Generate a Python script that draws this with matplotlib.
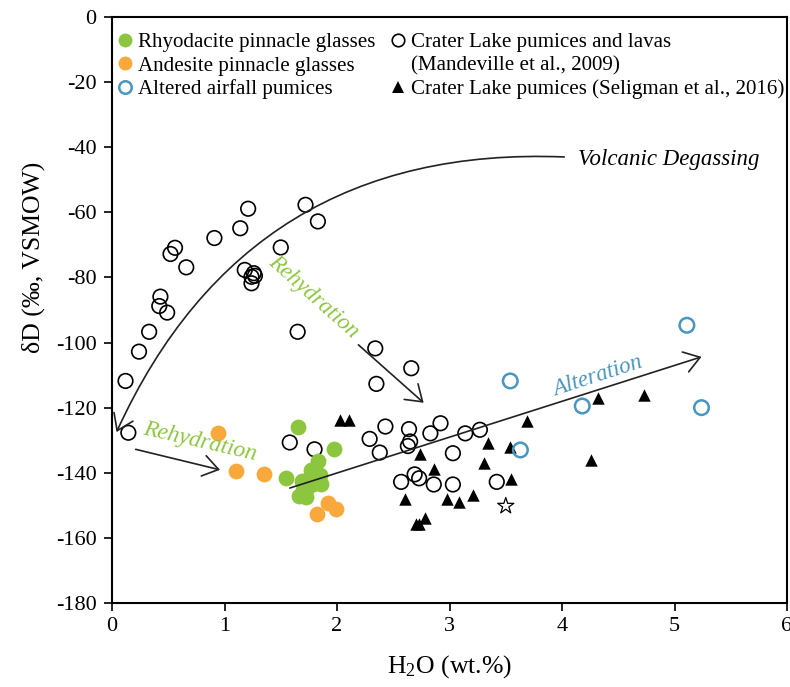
import matplotlib
matplotlib.use("Agg")
import matplotlib.pyplot as plt
from matplotlib.lines import Line2D

plt.rcParams['font.family'] = ['Liberation Serif', 'DejaVu Serif']
plt.rcParams['mathtext.fontset'] = 'custom'
plt.rcParams['mathtext.rm'] = 'Liberation Serif'
plt.rcParams['mathtext.it'] = 'Liberation Serif:italic'
plt.rcParams['axes.unicode_minus'] = False

# ---- data ----
rhyo_x = [1.65, 1.97, 1.55, 1.83, 1.77, 1.85, 1.86, 1.69, 1.73, 1.66, 1.72, 1.79, 1.76, 1.70]
rhyo_y = [-126, -132.6, -141.6, -136.5, -139.1, -140.7, -143.4, -142.5, -144.8, -147, -147.3, -143.4, -141.2, -145.3]

andes_x = [0.94, 1.10, 1.35, 1.82, 1.92, 1.99]
andes_y = [-127.9, -139.4, -140.5, -152.6, -149.4, -151.2]

alt_x = [3.54, 4.18, 3.63, 5.11, 5.24]
alt_y = [-111.8, -119.5, -133.0, -94.7, -120.0]

mand_x = [0.145, 0.12, 0.24, 0.33, 0.43, 0.42, 0.49, 0.56, 0.52, 0.66, 0.91, 1.14, 1.21,
          1.72, 1.83, 1.50, 1.18, 1.26, 1.27, 1.24, 1.24, 1.65, 2.34, 2.66, 2.35,
          1.58, 1.80, 2.43, 2.29, 2.38, 2.64, 2.65, 2.63, 2.83, 2.92, 3.14, 3.27,
          3.03, 2.57, 2.69, 2.73, 2.86, 3.03, 3.42]
mand_y = [-127.7, -111.8, -102.8, -96.7, -85.9, -88.8, -90.8, -70.9, -72.8, -76.9, -67.9, -64.9, -58.9,
          -57.7, -62.8, -70.8, -77.7, -78.7, -79.5, -81.8, -79.8, -96.7, -101.8, -107.9, -112.7,
          -130.7, -132.8, -125.8, -129.6, -133.8, -126.6, -130.4, -131.8, -127.9, -124.8, -127.9, -126.8,
          -134.0, -142.8, -140.5, -141.7, -143.6, -143.6, -142.8]

selig_x = [2.03, 2.11, 2.74, 2.86, 2.60, 2.98, 3.08, 3.21, 3.31, 3.34, 3.54, 3.55, 3.69,
           4.32, 4.73, 4.26, 2.70, 2.73, 2.78]
selig_y = [-123.8, -123.8, -134.1, -139.0, -148.0, -148.2, -148.9, -146.8, -137.0, -131.0, -132.0, -142.0, -124.0,
           -116.9, -116.1, -136.1, -155.7, -155.7, -154.0]

star_x = [3.50]
star_y = [-150.2]

x_ticks = [0, 1, 2, 3, 4, 5, 6]
y_ticks = [0, -20, -40, -60, -80, -100, -120, -140, -160, -180]

GREEN = '#8cc63f'
ORANGE = '#f9a93b'
BLUE = '#4a96bf'

fig = plt.figure(figsize=(7.9, 6.87), dpi=100)
ax = fig.add_axes([0.1418, 0.1223, 0.8544, 0.853])

ax.scatter(mand_x, mand_y, s=110, facecolors='none', edgecolors='black', linewidths=1.2, zorder=3)
ax.scatter(selig_x, selig_y, s=80, marker='^', color='black', linewidths=0, zorder=3)
ax.scatter(star_x, star_y, s=150, marker='*', facecolors='none', edgecolors='black', linewidths=0.9, zorder=3)
ax.scatter(alt_x, alt_y, s=110, facecolors='none', edgecolors=BLUE, linewidths=1.8, zorder=3)
ax.scatter(andes_x, andes_y, s=130, color=ORANGE, linewidths=0, zorder=3)
ax.scatter(rhyo_x, rhyo_y, s=130, color=GREEN, linewidths=0, zorder=3)

# arrows
def arrow(start, end, rad=0.0):
    ax.annotate('', xy=end, xytext=start,
                arrowprops=dict(arrowstyle='->,head_length=1.1,head_width=0.75',
                                mutation_scale=10, lw=1.2, color='#222222',
                                shrinkA=0, shrinkB=0,
                                connectionstyle=f'arc3,rad={rad}'), zorder=4)

arrow((4.02, -43.0), (0.04, -127.5), rad=0.336)
arrow((2.19, -100.7), (2.77, -118.5))
arrow((0.21, -132.8), (0.96, -139.1))
arrow((1.58, -144.7), (5.24, -104.4))

ax.text(4.14, -43.9, 'Volcanic Degassing', fontsize=16.5, style='italic', va='center', ha='left')
ax.text(1.79, -86.0, 'Rehydration', fontsize=16.5, style='italic', color=GREEN,
        rotation=-41.7, ha='center', va='center', rotation_mode='anchor')
ax.text(0.78, -130.6, 'Rehydration', fontsize=16.8, style='italic', color=GREEN,
        rotation=-13, ha='center', va='center', rotation_mode='anchor')
ax.text(4.32, -110.4, 'Alteration', fontsize=16.5, style='italic', color=BLUE,
        rotation=18, ha='center', va='center', rotation_mode='anchor')

ax.set_xlim(0, 6)
ax.set_ylim(-180, 0)
ax.set_xticks(x_ticks)
ax.set_yticks(y_ticks)
ax.set_xticklabels([str(v) for v in x_ticks])
ax.set_yticklabels([str(v) for v in y_ticks])
ax.tick_params(direction='out', length=6, width=1.2, labelsize=16)
ax.tick_params(axis='y', pad=5)
ax.tick_params(axis='x', pad=4)
for sp in ax.spines.values():
    sp.set_linewidth(1.5)

ax.set_xlabel('H$_2$O (wt.%)', fontsize=18.5)
ax.xaxis.set_label_coords(0.5, -0.085)
ax.set_ylabel('δD (‰, VSMOW)', fontsize=18.5)
ax.yaxis.set_label_coords(-0.1, 0.589)

handles = [
    Line2D([], [], marker='o', ls='none', color=GREEN, markersize=10, mew=0),
    Line2D([], [], marker='o', ls='none', color=ORANGE, markersize=10, mew=0),
    Line2D([], [], marker='o', ls='none', mfc='none', mec=BLUE, markersize=9, mew=1.8),
    Line2D([], [], marker='o', ls='none', mfc='none', mec='black', markersize=9, mew=1.2),
    Line2D([], [], ls='none'),
    Line2D([], [], marker='^', ls='none', color='black', markersize=8, mew=0),
]
labels = ['Rhyodacite pinnacle glasses', 'Andesite pinnacle glasses', 'Altered airfall pumices',
          'Crater Lake pumices and lavas', '(Mandeville et al., 2009)',
          'Crater Lake pumices (Seligman et al., 2016)']
ax.legend(handles, labels, ncol=2, loc='upper left', bbox_to_anchor=(0.0, 0.982),
          frameon=False, fontsize=15.1, handlelength=0.7, handletextpad=0.3,
          columnspacing=0.7, labelspacing=0.17, borderpad=0.15, borderaxespad=0.1)

fig.savefig('out.png', dpi=100)
